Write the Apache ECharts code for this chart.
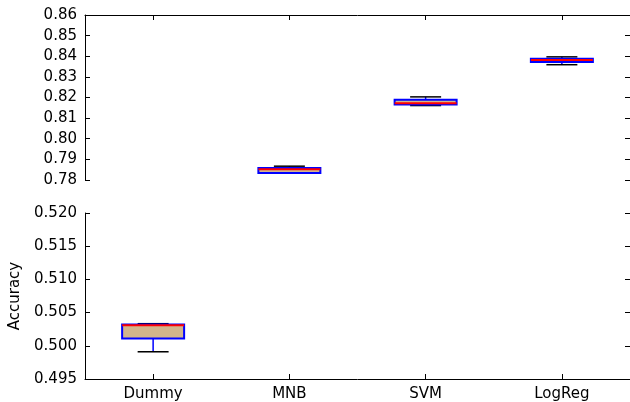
<!DOCTYPE html>
<html>
<head>
<meta charset="utf-8">
<script src="https://cdn.jsdelivr.net/npm/echarts@6/dist/echarts.min.js"></script>
<style>html,body{margin:0;padding:0;background:#fff}#c{width:630px;height:402px}</style>
</head>
<body>
<div id="c"></div>
<script>
const categories = ['Dummy', 'MNB', 'SVM', 'LogReg'];
const whiskerLow  = [0.4991, 0.7833, 0.8161, 0.8359];
const q1          = [0.5011, 0.7834, 0.8166, 0.8372];
const median      = [0.5031, 0.7852, 0.8172, 0.8382];
const q3          = [0.5032, 0.7858, 0.8189, 0.8388];
const whiskerHigh = [0.50333, 0.7867, 0.8203, 0.8397];
const topTicks = ['0.78','0.79','0.80','0.81','0.82','0.83','0.84','0.85','0.86'];
const bottomTicks = ['0.495','0.500','0.505','0.510','0.515','0.520'];

const FONT = 'DejaVu Sans';
const topMin = +topTicks[0], topMax = +topTicks[topTicks.length-1];
const botMin = +bottomTicks[0], botMax = +bottomTicks[bottomTicks.length-1];

function rows(inTop) {
  const out = [];
  categories.forEach((c, i) => {
    const isTop = median[i] >= topMin;
    if (isTop === inTop) out.push([i, whiskerLow[i], q1[i], median[i], q3[i], whiskerHigh[i]]);
  });
  return out;
}

function renderItem(params, api) {
  const x = api.value(0);
  const bw = api.size([1, 0])[0] * 0.455;
  const cw = bw * 0.5;
  const pLow = api.coord([x, api.value(1)]);
  const pQ1 = api.coord([x, api.value(2)]);
  const pMed = api.coord([x, api.value(3)]);
  const pQ3 = api.coord([x, api.value(4)]);
  const pHigh = api.coord([x, api.value(5)]);
  const cx = pMed[0];
  return {
    type: 'group',
    children: [
      { type: 'line', shape: { x1: cx, y1: pQ1[1], x2: cx, y2: pLow[1] }, style: { stroke: '#0000ff', lineWidth: 1.5 } },
      { type: 'line', shape: { x1: cx, y1: pQ3[1], x2: cx, y2: pHigh[1] }, style: { stroke: '#0000ff', lineWidth: 1.5 } },
      { type: 'line', shape: { x1: cx - cw/2, y1: pLow[1], x2: cx + cw/2, y2: pLow[1] }, style: { stroke: '#000', lineWidth: 1.5 } },
      { type: 'line', shape: { x1: cx - cw/2, y1: pHigh[1], x2: cx + cw/2, y2: pHigh[1] }, style: { stroke: '#000', lineWidth: 1.5 } },
      { type: 'rect', shape: { x: cx - bw/2, y: pQ3[1], width: bw, height: pQ1[1] - pQ3[1] }, style: { fill: '#d2b48c', stroke: '#0000ff', lineWidth: 2 } },
      { type: 'line', shape: { x1: cx - bw/2, y1: pMed[1], x2: cx + bw/2, y2: pMed[1] }, style: { stroke: '#ff0000', lineWidth: 2 } }
    ]
  };
}

const labelStyle = { color: '#000', fontFamily: FONT, fontSize: 15 };
const chart = echarts.init(document.getElementById('c'), null, { renderer: 'canvas' });
chart.setOption({
  animation: false,
  backgroundColor: '#fff',
  grid: [
    { left: 85, right: 0, top: 15, height: 165 },
    { left: 85, right: 0, top: 213, height: 166 }
  ],
  xAxis: [
    { type: 'category', gridIndex: 0, data: categories, position: 'top',
      axisLine: { show: true, lineStyle: { color: '#000', width: 1 } },
      axisTick: { show: true, inside: true, alignWithLabel: true, length: 5, lineStyle: { color: '#000' } },
      axisLabel: { show: false }, splitLine: { show: false } },
    { type: 'category', gridIndex: 1, data: categories, position: 'bottom',
      axisLine: { show: true, lineStyle: { color: '#000', width: 1 } },
      axisTick: { show: true, inside: true, alignWithLabel: true, length: 5, lineStyle: { color: '#000' } },
      axisLabel: Object.assign({ margin: 8 }, labelStyle), splitLine: { show: false } }
  ],
  yAxis: [
    { type: 'value', gridIndex: 0, min: topMin, max: topMax, interval: 0.01, position: 'left',
      axisLine: { show: true, lineStyle: { color: '#000', width: 1 } },
      axisTick: { show: true, inside: true, length: 5, lineStyle: { color: '#000' } },
      axisLabel: Object.assign({ margin: 8, formatter: v => v.toFixed(2) }, labelStyle),
      splitLine: { show: false } },
    { type: 'value', gridIndex: 0, min: topMin, max: topMax, interval: 0.01, position: 'right',
      axisLine: { show: false },
      axisTick: { show: true, inside: true, length: 5, lineStyle: { color: '#000' } },
      axisLabel: { show: false }, splitLine: { show: false } },
    { type: 'value', gridIndex: 1, min: botMin, max: botMax, interval: 0.005, position: 'left',
      name: 'Accuracy', nameLocation: 'middle', nameGap: 62,
      nameTextStyle: { color: '#000', fontFamily: FONT, fontSize: 15 },
      axisLine: { show: true, lineStyle: { color: '#000', width: 1 } },
      axisTick: { show: true, inside: true, length: 5, lineStyle: { color: '#000' } },
      axisLabel: Object.assign({ margin: 8, formatter: v => v.toFixed(3) }, labelStyle),
      splitLine: { show: false } },
    { type: 'value', gridIndex: 1, min: botMin, max: botMax, interval: 0.005, position: 'right',
      axisLine: { show: false },
      axisTick: { show: true, inside: true, length: 5, lineStyle: { color: '#000' } },
      axisLabel: { show: false }, splitLine: { show: false } }
  ],
  series: [
    { type: 'custom', xAxisIndex: 0, yAxisIndex: 0, renderItem: renderItem, data: rows(true), clip: false },
    { type: 'custom', xAxisIndex: 1, yAxisIndex: 2, renderItem: renderItem, data: rows(false), clip: false }
  ]
});
</script>
</body>
</html>
